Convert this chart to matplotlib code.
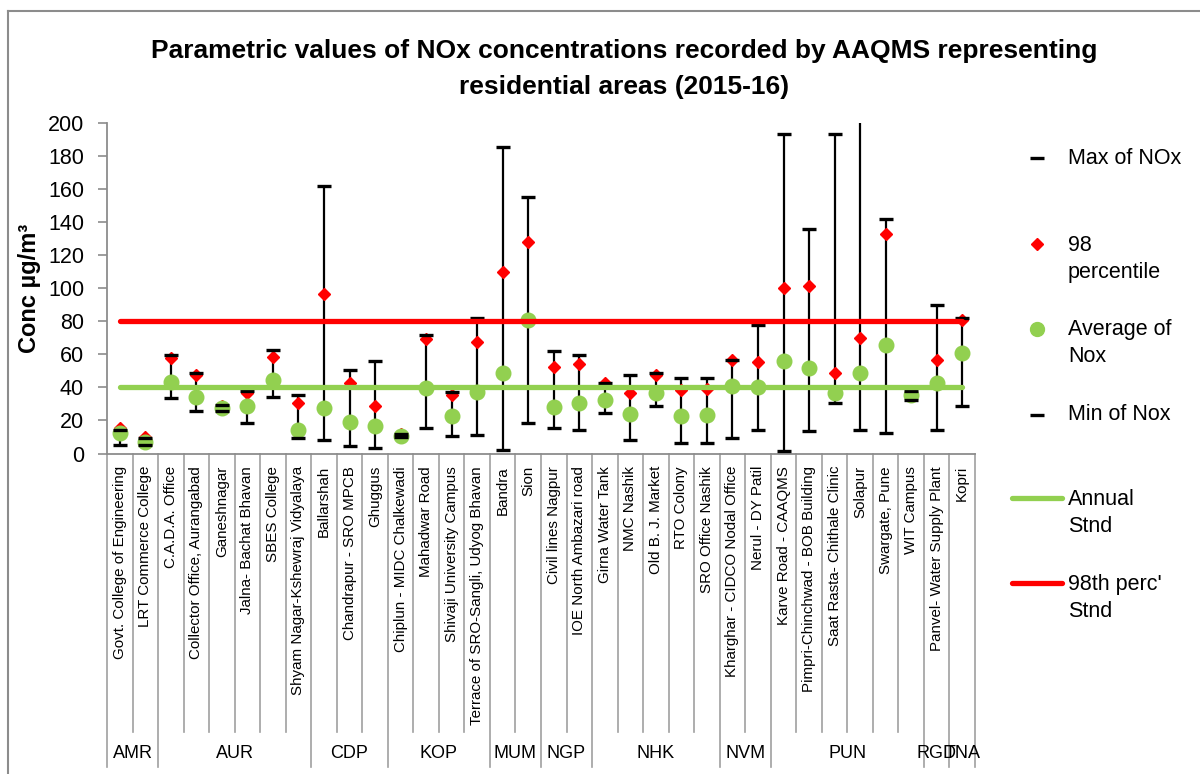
import matplotlib
matplotlib.use('Agg')
import matplotlib.pyplot as plt
from matplotlib.lines import Line2D
import numpy as np

plt.rcParams['font.family'] = ['Liberation Sans', 'DejaVu Sans']

# ---------------- data ----------------
groups = ['AMR', 'AUR', 'CDP', 'KOP', 'MUM', 'NGP', 'NHK', 'NVM', 'PUN', 'RGD', 'TNA']
group_sizes = [2, 6, 3, 4, 2, 2, 5, 2, 6, 1, 1]

stations = [
    'Govt. College of Engineering', 'LRT Commerce College',
    'C.A.D.A. Office', 'Collector Office, Aurangabad', 'Ganeshnagar',
    'Jalna- Bachat Bhavan', 'SBES College', 'Shyam Nagar-Kshewraj Vidyalaya',
    'Ballarshah', 'Chandrapur - SRO MPCB', 'Ghuggus',
    'Chiplun - MIDC Chalkewadi', 'Mahadwar Road', 'Shivaji University Campus',
    'Terrace of SRO-Sangli, Udyog Bhavan',
    'Bandra', 'Sion',
    'Civil lines Nagpur', 'IOE North Ambazari road',
    'Girna Water Tank', 'NMC Nashik', 'Old B. J. Market', 'RTO Colony',
    'SRO Office Nashik',
    'Kharghar - CIDCO Nodal Office', 'Nerul - DY Patil',
    'Karve Road - CAAQMS', 'Pimpri-Chinchwad - BOB Building',
    'Saat Rasta- Chithale Clinic', 'Solapur', 'Swargate, Pune', 'WIT Campus',
    'Panvel- Water Supply Plant',
    'Kopri',
]

max_nox = [14.5, 9.5, 59.6, 48.9, 29.3, 38, 62.6, 35.4, 161.9, 50.5, 55.9,
           12, 71.6, 37.4, 81.7, 185.1, 154.9, 62, 59.4, 42.5, 47.3, 48.5,
           45.5, 45.5, 56.5, 77.7, 193, 135.7, 193, 210, 141.8, 37.5, 89.8, 81.7]
p98_nox = [15.2, 10.2, 57.6, 47.5, 28.5, 36.8, 58.5, 30.4, 96.3, 42.8, 28.7,
           12, 69.2, 35.4, 67.6, 109.9, 127.7, 52.5, 54.1, 42.5, 36.4, 47.5,
           38.4, 38.8, 56.5, 55.5, 99.9, 101.5, 48.5, 69.6, 132.7, 37.4, 56.5, 80.7]
avg_nox = [12.2, 6.8, 43.4, 34.3, 27.3, 28.7, 44.4, 14.2, 27.7, 19.2, 16.6,
           10.6, 39.8, 22.9, 37.4, 48.5, 80.7, 28.3, 30.7, 32.3, 23.7, 36.8,
           22.7, 23.3, 40.8, 40.0, 56.1, 51.5, 36.4, 48.5, 65.4, 35.4, 42.8, 60.9]
min_nox = [5.1, 5.1, 33.4, 25.7, 25.7, 18.3, 34.0, 9.2, 8.2, 4.5, 3.1,
           10, 15.2, 10.6, 11.2, 2.1, 18.3, 15.2, 14.2, 24.3, 8.2, 28.7,
           6.5, 6.5, 9.2, 14.2, 1.5, 13.6, 30.4, 14.2, 12.2, 32.3, 14.2, 28.7]

annual_std = 40
perc98_std = 80

y_ticks = list(range(0, 201, 20))

title_line1 = 'Parametric values of NOx concentrations recorded by AAQMS representing'
title_line2 = 'residential areas (2015-16)'
legend_labels = ['Max of NOx', '98\npercentile', 'Average of\nNox', 'Min of Nox',
                 'Annual\nStnd', "98th perc'\nStnd"]

# ---------------- styles ----------------
GREEN = '#92D050'
RED = '#FF0000'
GRAY = '#8C8C8C'

W, H = 1200, 774
fig = plt.figure(figsize=(W / 100, H / 100), dpi=100)
ax = fig.add_axes([107 / W, 1 - 453.5 / H, 868 / W, 330.8 / H])

n = len(stations)
x = np.arange(n)

ax.vlines(x, min_nox, max_nox, colors='black', lw=1.6, zorder=2)
ax.plot(x, p98_nox, ls='none', marker='D', ms=6.5, color=RED, mec=RED, zorder=3)
ax.plot(x, avg_nox, ls='none', marker='o', ms=10.5, color=GREEN, mec=GREEN, zorder=4)
ax.plot(x, max_nox, ls='none', marker='_', ms=10, mew=2.4, color='black', zorder=5)
ax.plot(x, min_nox, ls='none', marker='_', ms=10, mew=2.4, color='black', zorder=5)
ax.plot(x, np.full(n, perc98_std), color=RED, lw=3.8, solid_capstyle='round', zorder=6)
ax.plot(x, np.full(n, annual_std), color=GREEN, lw=3.8, solid_capstyle='round', zorder=6)

ax.set_xlim(-0.5, n - 0.5)
ax.set_ylim(0, 200)
ax.set_yticks(y_ticks)
ax.set_yticklabels([str(v) for v in y_ticks])
ax.tick_params(axis='y', length=6.5, width=1.2, color=GRAY, labelsize=15.5, pad=10)
ax.set_xticks(x)
ax.set_xticklabels(stations, rotation=90, fontsize=10.9, va='top', ha='center')
ax.tick_params(axis='x', length=0, pad=9)

for s in ['top', 'right']:
    ax.spines[s].set_visible(False)
for s in ['left', 'bottom']:
    ax.spines[s].set_color(GRAY)
    ax.spines[s].set_linewidth(1.3)

ax.set_ylabel('Conc µg/m³', fontsize=17, fontweight='bold', labelpad=8)
ax.yaxis.set_label_coords(-(107 - 41) / 868, 0.5)

# category separators and group labels below the axis
xt = ax.get_xaxis_transform()
bounds = np.cumsum([0] + group_sizes) - 0.5
inner_bottom = -(732 - 453.5) / 330.8
group_bottom = -(767 - 453.5) / 330.8
for b in np.arange(-0.5, n, 1.0):
    is_group = np.any(np.isclose(bounds, b))
    ax.plot([b, b], [0, group_bottom if is_group else inner_bottom], transform=xt,
            color='#A0A0A0', lw=1.2, clip_on=False, zorder=1)
for g, lo, hi in zip(groups, bounds[:-1], bounds[1:]):
    ax.text((lo + hi) / 2, -(753 - 453.5) / 330.8, g, transform=xt,
            ha='center', va='center', fontsize=13)

# title
fig.text(624 / W, 1 - 51 / H, title_line1, ha='center', va='center',
         fontsize=19, fontweight='bold')
fig.text(624 / W, 1 - 87 / H, title_line2, ha='center', va='center',
         fontsize=19, fontweight='bold')

# outer frame (partially visible)
fig.add_artist(Line2D([8 / W, 8 / W], [0, 1 - 11 / H], transform=fig.transFigure,
                      color=GRAY, lw=1.5))
fig.add_artist(Line2D([8 / W, 1], [1 - 11 / H, 1 - 11 / H], transform=fig.transFigure,
                      color=GRAY, lw=1.5))

# legend (manual)
tf = fig.transFigure
def fx(px):
    return px / W
def fy(py):
    return 1 - py / H

fig.add_artist(Line2D([fx(1037)], [fy(158)], transform=tf, marker='_', ms=10, mew=2.4,
                      color='black', ls='none'))
fig.add_artist(Line2D([fx(1037)], [fy(244)], transform=tf, marker='D', ms=6.5,
                      color=RED, mec=RED, ls='none'))
fig.add_artist(Line2D([fx(1037)], [fy(329)], transform=tf, marker='o', ms=10,
                      color=GREEN, mec=GREEN, ls='none'))
fig.add_artist(Line2D([fx(1037)], [fy(415)], transform=tf, marker='_', ms=10, mew=2.4,
                      color='black', ls='none'))
fig.add_artist(Line2D([fx(1012), fx(1062)], [fy(498), fy(498)], transform=tf,
                      color=GREEN, lw=3.8, solid_capstyle='round'))
fig.add_artist(Line2D([fx(1012), fx(1062)], [fy(583), fy(583)], transform=tf,
                      color=RED, lw=3.8, solid_capstyle='round'))

legend_y = [158, 259, 343, 415, 513, 598]
for lab, yy in zip(legend_labels, legend_y):
    fig.text(fx(1068), fy(yy), lab, ha='left', va='center', fontsize=15.5,
             linespacing=1.4)

fig.savefig('out.png', dpi=100)
